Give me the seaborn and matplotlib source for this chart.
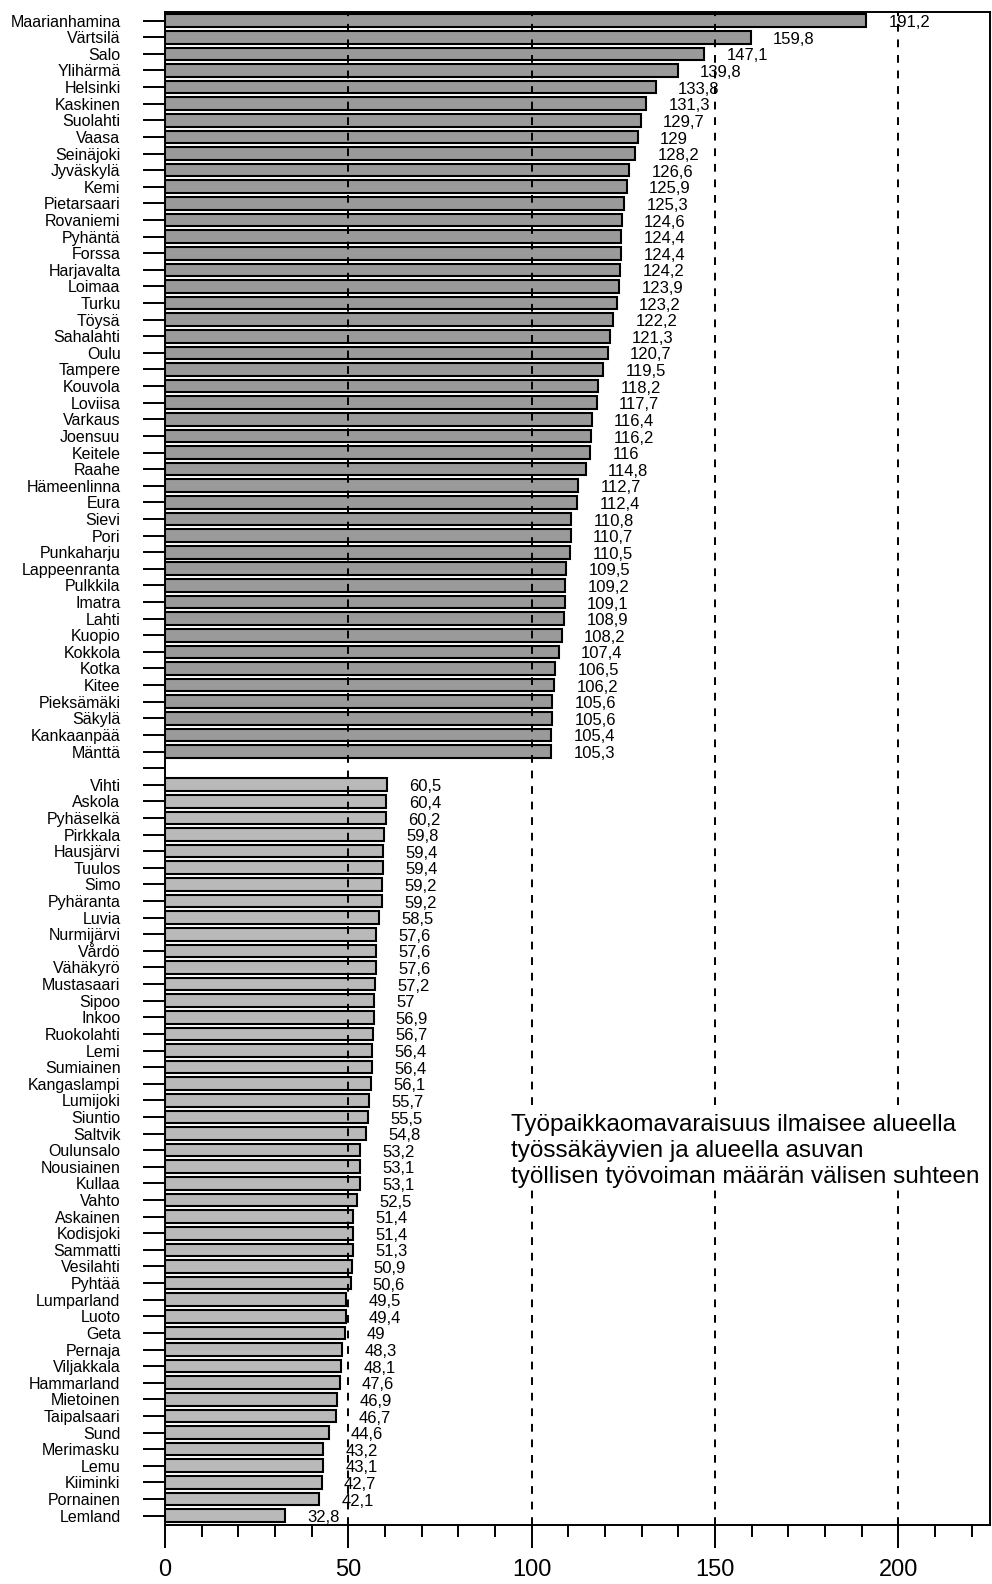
import matplotlib
matplotlib.use("Agg")
import matplotlib.pyplot as plt
from matplotlib.ticker import MultipleLocator
import seaborn as sns
import pandas as pd

top_names = ["Maarianhamina", "Värtsilä", "Salo", "Ylihärmä", "Helsinki", "Kaskinen", "Suolahti",
             "Vaasa", "Seinäjoki", "Jyväskylä", "Kemi", "Pietarsaari", "Rovaniemi", "Pyhäntä",
             "Forssa", "Harjavalta", "Loimaa", "Turku", "Töysä", "Sahalahti", "Oulu", "Tampere",
             "Kouvola", "Loviisa", "Varkaus", "Joensuu", "Keitele", "Raahe", "Hämeenlinna", "Eura",
             "Sievi", "Pori", "Punkaharju", "Lappeenranta", "Pulkkila", "Imatra", "Lahti", "Kuopio",
             "Kokkola", "Kotka", "Kitee", "Pieksämäki", "Säkylä", "Kankaanpää", "Mänttä"]
top_values = [191.2, 159.8, 147.1, 139.8, 133.8, 131.3, 129.7, 129, 128.2, 126.6, 125.9, 125.3,
              124.6, 124.4, 124.4, 124.2, 123.9, 123.2, 122.2, 121.3, 120.7, 119.5, 118.2, 117.7,
              116.4, 116.2, 116, 114.8, 112.7, 112.4, 110.8, 110.7, 110.5, 109.5, 109.2, 109.1,
              108.9, 108.2, 107.4, 106.5, 106.2, 105.6, 105.6, 105.4, 105.3]

bottom_names = ["Vihti", "Askola", "Pyhäselkä", "Pirkkala", "Hausjärvi", "Tuulos", "Simo",
                "Pyhäranta", "Luvia", "Nurmijärvi", "Vårdö", "Vähäkyrö", "Mustasaari", "Sipoo",
                "Inkoo", "Ruokolahti", "Lemi", "Sumiainen", "Kangaslampi", "Lumijoki", "Siuntio",
                "Saltvik", "Oulunsalo", "Nousiainen", "Kullaa", "Vahto", "Askainen", "Kodisjoki",
                "Sammatti", "Vesilahti", "Pyhtää", "Lumparland", "Luoto", "Geta", "Pernaja",
                "Viljakkala", "Hammarland", "Mietoinen", "Taipalsaari", "Sund", "Merimasku",
                "Lemu", "Kiiminki", "Pornainen", "Lemland"]
bottom_values = [60.5, 60.4, 60.2, 59.8, 59.4, 59.4, 59.2, 59.2, 58.5, 57.6, 57.6, 57.6, 57.2, 57,
                 56.9, 56.7, 56.4, 56.4, 56.1, 55.7, 55.5, 54.8, 53.2, 53.1, 53.1, 52.5, 51.4,
                 51.4, 51.3, 50.9, 50.6, 49.5, 49.4, 49, 48.3, 48.1, 47.6, 46.9, 46.7, 44.6,
                 43.2, 43.1, 42.7, 42.1, 32.8]

x_ticks = [0, 50, 100, 150, 200]
ref_lines = [50, 100, 150, 200]
note = ("Työpaikkaomavaraisuus ilmaisee alueella\n"
        "työssäkäyvien ja alueella asuvan\n"
        "työllisen työvoiman määrän välisen suhteen")

gap = ""
order = top_names + [gap] + bottom_names
df = pd.DataFrame({
    "kunta": top_names + bottom_names,
    "arvo": top_values + bottom_values,
    "ryhma": ["top"] * len(top_names) + ["bottom"] * len(bottom_names),
})

sns.set_style("white")
plt.rcParams["font.family"] = ["Liberation Sans", "DejaVu Sans"]
plt.rcParams["text.color"] = "black"
plt.rcParams["xtick.color"] = "black"
plt.rcParams["ytick.color"] = "black"
plt.rcParams["axes.labelcolor"] = "black"

fig = plt.figure(figsize=(9.92, 15.84), dpi=100)
ax = fig.add_axes([0.1663, 0.0372, 0.8317, 0.955])

sns.barplot(data=df, y="kunta", x="arvo", hue="ryhma", order=order,
            hue_order=["top", "bottom"],
            palette={"top": "#9a9a9a", "bottom": "#b9b9b9"},
            dodge=False, width=0.76, edgecolor="black", linewidth=1.5,
            legend=False, ax=ax, orient="h")

def fmt(v):
    if float(v).is_integer():
        return str(int(v))
    return f"{v:.1f}".replace(".", ",")

for name, v in zip(df["kunta"], df["arvo"]):
    yi = order.index(name)
    ax.annotate(fmt(v), xy=(v, yi), xytext=(16, -1.5), textcoords="offset points",
                ha="left", va="center", fontsize=12, color="black", zorder=6)

for xv in ref_lines:
    ax.axvline(xv, color="black", linestyle=(0, (4, 4)), linewidth=1.4, zorder=5)

ax.set_xlim(0, 225)
ax.set_ylim(90.57, -0.5)
ax.set_xticks(x_ticks)
ax.xaxis.set_minor_locator(MultipleLocator(10))
ax.set_xlabel("")
ax.set_ylabel("")

ax.tick_params(axis="x", which="major", direction="out", length=16.5, width=1.4,
               labelsize=17, pad=8, bottom=True)
ax.tick_params(axis="x", which="minor", direction="out", length=8.5, width=1.4, bottom=True)
ax.tick_params(axis="y", which="major", direction="out", length=16, width=1.4,
               labelsize=11.5, pad=16, left=True)

for s in ax.spines.values():
    s.set_visible(True)
    s.set_linewidth(1.4)
    s.set_color("black")

ax.text(94.4, 65.8, note, ha="left", va="top", fontsize=17.5, linespacing=1.25,
        color="black", zorder=7,
        bbox=dict(facecolor="white", edgecolor="none", pad=1))

fig.savefig("out.png", dpi=100, facecolor="white")
